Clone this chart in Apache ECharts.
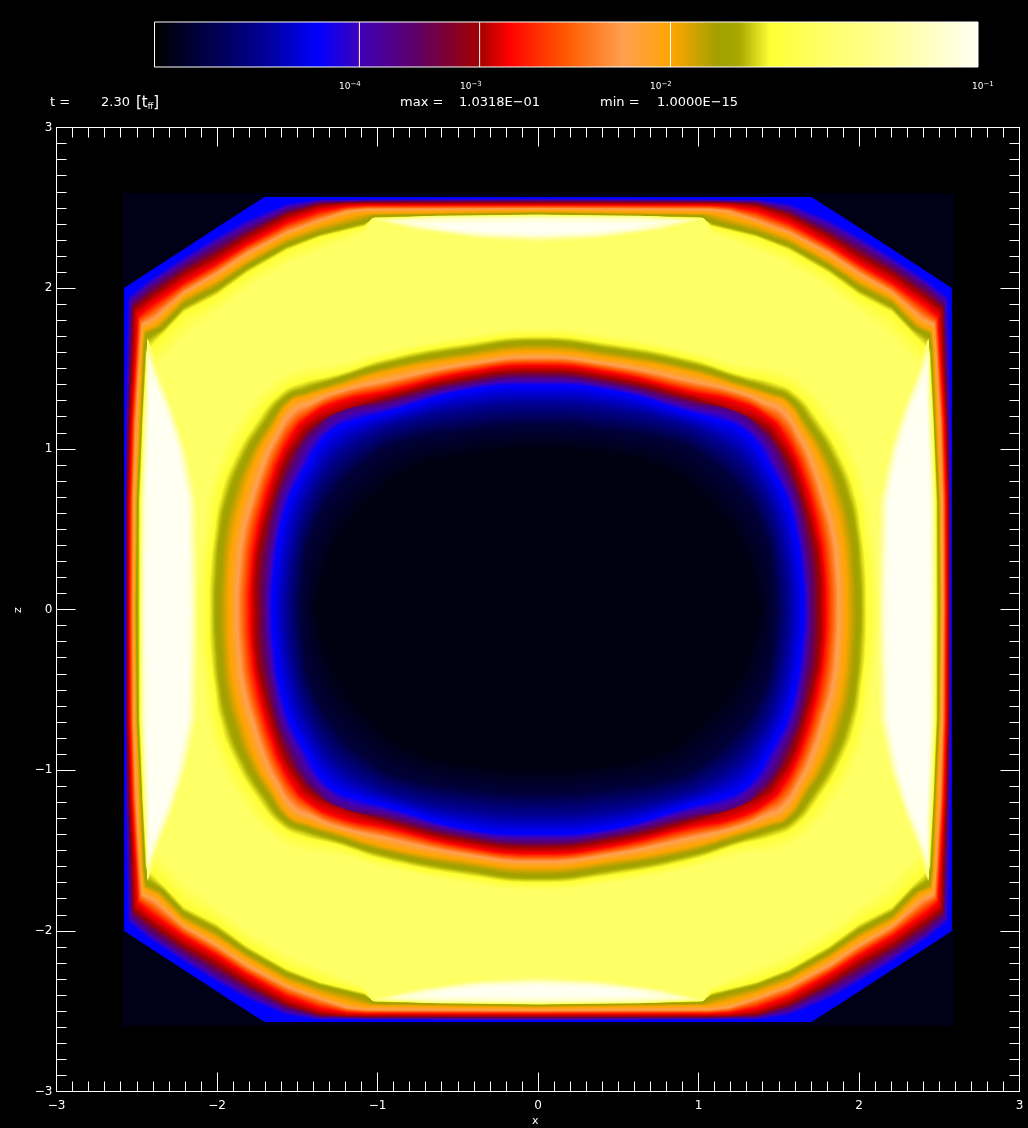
<!DOCTYPE html>
<html><head><meta charset="utf-8">
<style>html,body{margin:0;padding:0;background:#000}#c{width:1028px;height:1128px}</style>
<script src="https://cdn.jsdelivr.net/npm/echarts@6/dist/echarts.min.js"></script></head>
<body><div id="c"></div>
<script>
// ---- colour scale (position on the colour bar 0..1, colour) ----
const scaleStops = [[0,'#000000'],[.13,'#000090'],[.199,'#0000ff'],[.25,'#4000b8'],[.322,'#600060'],[.394,'#a00000'],[.43,'#ff0000'],[.5,'#ff5a00'],[.57,'#ffa050'],[.628,'#ffa500'],[.684,'#a0a000'],[.71,'#a8a800'],[.748,'#ffff33'],[.81,'#ffff66'],[.87,'#ffff88'],[1,'#fffff2']];
const barTickLevels = [.2488,.3948,.6266];

// ---- iso-level curves, quadrant x>0 z>0, [x,z] ----
const domainHalfWidth = 2.59;
const domainLevel = .02;
const outerLevels = [.2,.2,.3,.394,.43,.57,.628,.695,.748,.81];
const outerCurves = [
 [[0,2.568],[1.068,2.568],[1.192,2.568],[1.441,2.568],[1.703,2.568],[1.909,2.436],[2.083,2.323],[2.282,2.194],[2.450,2.085],[2.578,2.001],[2.578,1.616],[2.578,1.179],[2.578,.681],[2.578,0]],
 [[0,2.558],[1.068,2.555],[1.192,2.555],[1.361,2.555],[1.566,2.531],[1.815,2.432],[2.002,2.325],[2.207,2.200],[2.419,2.057],[2.556,1.951],[2.565,1.616],[2.572,1.179],[2.575,.681],[2.575,0]],
 [[0,2.546],[1.068,2.543],[1.192,2.537],[1.361,2.537],[1.566,2.487],[1.815,2.369],[2.002,2.269],[2.207,2.144],[2.419,2.007],[2.531,1.908],[2.544,1.616],[2.556,1.179],[2.565,.681],[2.565,0]],
 [[0,2.531],[1.068,2.531],[1.192,2.531],[1.361,2.518],[1.566,2.456],[1.815,2.325],[2.002,2.207],[2.207,2.095],[2.419,1.945],[2.519,1.871],[2.525,1.616],[2.544,1.179],[2.556,.681],[2.556,0]],
 [[0,2.518],[1.068,2.518],[1.192,2.512],[1.361,2.487],[1.566,2.412],[1.815,2.275],[2.002,2.157],[2.207,2.039],[2.419,1.895],[2.494,1.827],[2.506,1.616],[2.531,1.179],[2.544,.681],[2.547,0]],
 [[0,2.496],[1.068,2.493],[1.192,2.481],[1.361,2.425],[1.566,2.350],[1.815,2.219],[2.002,2.095],[2.207,1.976],[2.394,1.814],[2.469,1.777],[2.481,1.616],[2.506,1.179],[2.522,.681],[2.525,0]],
 [[0,2.481],[1.068,2.468],[1.192,2.444],[1.361,2.394],[1.566,2.319],[1.815,2.176],[2.002,2.051],[2.207,1.945],[2.375,1.777],[2.456,1.740],[2.469,1.616],[2.487,1.179],[2.506,.681],[2.512,0]],
 [[0,2.462],[1.006,2.447],[1.080,2.412],[1.361,2.344],[1.566,2.269],[1.815,2.132],[2.002,2.001],[2.207,1.895],[2.344,1.752],[2.438,1.709],[2.450,1.616],[2.469,1.179],[2.494,.681],[2.500,0]],
 [[0,2.456],[1.024,2.437],[1.080,2.387],[1.361,2.319],[1.566,2.238],[1.815,2.095],[2.002,1.958],[2.207,1.852],[2.326,1.727],[2.407,1.647],[2.438,1.603],[2.462,1.179],[2.481,.681],[2.481,0]],
 [[0,2.453],[1.037,2.431],[1.080,2.350],[1.317,2.250],[1.535,2.163],[1.784,2.020],[1.971,1.877],[2.158,1.740],[2.282,1.616],[2.375,1.522],[2.413,1.428],[2.450,1.179],[2.462,.681],[2.472,0]]
];
const innerLevels = [.81,.748,.695,.628,.57,.43,.394,.3,.2,.13,.05,.015];
const innerCurves = [
 [[0,1.752],[.445,1.709],[.943,1.615],[1.236,1.540],[1.535,1.491],[1.703,1.379],[1.846,1.210],[1.971,.993],[2.064,.681],[2.083,.476],[2.114,.264],[2.126,0]],
 [[0,1.702],[.445,1.659],[.943,1.565],[1.255,1.466],[1.473,1.416],[1.610,1.347],[1.753,1.179],[1.909,.912],[1.989,.681],[2.020,.476],[2.045,.264],[2.051,0]],
 [[0,1.665],[.445,1.615],[.943,1.522],[1.255,1.428],[1.441,1.366],[1.566,1.316],[1.691,1.161],[1.822,.949],[1.927,.681],[1.971,.476],[1.989,.264],[2.002,0]],
 [[0,1.609],[.445,1.565],[.943,1.478],[1.255,1.385],[1.441,1.329],[1.547,1.285],[1.659,1.117],[1.753,.949],[1.846,.681],[1.896,.476],[1.921,.264],[1.927,0]],
 [[0,1.572],[.445,1.528],[.943,1.428],[1.255,1.354],[1.410,1.291],[1.522,1.242],[1.628,1.086],[1.703,.930],[1.784,.681],[1.840,.476],[1.865,.264],[1.877,0]],
 [[0,1.522],[.445,1.478],[.943,1.360],[1.255,1.291],[1.460,1.179],[1.535,1.086],[1.610,.949],[1.659,.818],[1.703,.681],[1.753,.476],[1.784,.264],[1.796,0]],
 [[0,1.484],[.445,1.441],[.943,1.322],[1.224,1.229],[1.410,1.148],[1.491,1.055],[1.566,.943],[1.616,.818],[1.659,.681],[1.716,.476],[1.753,.264],[1.759,0]],
 [[0,1.447],[.445,1.403],[.943,1.285],[1.255,1.223],[1.398,1.098],[1.473,1.005],[1.516,.912],[1.566,.807],[1.616,.681],[1.659,.476],[1.691,.264],[1.703,0]],
 [[0,1.397],[.445,1.366],[.943,1.229],[1.130,1.179],[1.255,1.136],[1.361,1.036],[1.441,.899],[1.510,.775],[1.554,.681],[1.610,.476],[1.641,.264],[1.659,0]],
 [[0,1.285],[.445,1.254],[.881,1.161],[1.068,1.086],[1.192,1.011],[1.286,.930],[1.361,.824],[1.429,.700],[1.485,.557],[1.516,.431],[1.547,.264],[1.566,0]],
 [[0,1.148],[.445,1.117],[.881,1.036],[1.068,.930],[1.192,.824],[1.286,.712],[1.361,.600],[1.417,.463],[1.448,.370],[1.460,.278],[1.466,.183],[1.479,0]],
 [[0,.993],[.445,.961],[.819,.856],[1.006,.712],[1.130,.588],[1.224,.463],[1.286,.339],[1.329,.214],[1.354,.121],[1.361,.090],[1.367,.059],[1.379,0]]
];
const lensLevels = [.81,.87,.95,1];
const sideLensCurves = [
 [[2.095,0],[2.114,.681],[2.189,.993],[2.270,1.242],[2.363,1.491],[2.432,1.690],[2.453,1.304],[2.475,.681],[2.478,0]],
 [[2.126,0],[2.138,.681],[2.201,.993],[2.282,1.242],[2.382,1.491],[2.435,1.646],[2.444,1.304],[2.469,.681],[2.472,0]],
 [[2.151,0],[2.163,.681],[2.226,.993],[2.301,1.242],[2.394,1.479],[2.432,1.585],[2.432,1.304],[2.456,.681],[2.456,0]],
 [[2.176,0],[2.189,.681],[2.251,.993],[2.326,1.242],[2.407,1.429],[2.416,1.491],[2.419,1.304],[2.435,.681],[2.438,0]]
];
const topLensCurves = [
 [[0,2.453],[.632,2.450],[1.037,2.434],[.819,2.363],[.383,2.300],[0,2.275]],
 [[0,2.450],[.632,2.444],[1.000,2.425],[.757,2.369],[.383,2.319],[0,2.300]],
 [[0,2.437],[.632,2.431],[.912,2.419],[.663,2.369],[.364,2.331],[0,2.319]],
 [[0,2.406],[.445,2.400],[.663,2.400],[.507,2.369],[.258,2.350],[0,2.344]]
];

// ---- colour lookup ----
function hex(c){return [1,3,5].map(i=>parseInt(c.substr(i,2),16));}
function levelColor(f){
  for(let i=1;i<scaleStops.length;i++){
    if(f<=scaleStops[i][0]){
      const a=scaleStops[i-1],b=scaleStops[i],t=(f-a[0])/(b[0]-a[0]),A=hex(a[1]),B=hex(b[1]);
      return 'rgb('+A.map((v,k)=>Math.round(v+(B[k]-v)*t)).join(',')+')';
    }
  }
  return scaleStops[scaleStops.length-1][1];
}
// ---- nested filled shapes painted outside-in; colour is shaded across each band ----
const shapes=[];
const SHADE=8;
function shadedBands(curves,levels,toOutline,smooth){
  for(let i=0;i<curves.length;i++){
    const steps=i+1<curves.length?SHADE:1;
    for(let k=0;k<steps;k++){
      const t=k/SHADE;
      const c=curves[i].map((p,j)=>{
        if(k===0) return p;
        const q=curves[i+1][j];
        return [p[0]+(q[0]-p[0])*t,p[1]+(q[1]-p[1])*t];
      });
      const f=k===0?levels[i]:levels[i]+(levels[i+1]-levels[i])*t;
      toOutline(c).forEach(pts=>shapes.push({pts,f,smooth}));
    }
  }
}
const flipX=c=>c.map(p=>[-p[0],p[1]]), flipZ=c=>c.map(p=>[p[0],-p[1]]);
const rev=c=>c.slice().reverse();
const ringOutline=c=>[c.concat(rev(flipZ(c)).slice(1),flipX(flipZ(c)).slice(1),rev(flipX(c)).slice(1,-1))];
const sideOutline=c=>{const a=c.concat(rev(flipZ(c)).slice(1,-1));return [a,flipX(a)];};
const topOutline=c=>{const a=c.concat(rev(flipX(c)).slice(1,-1));return [a,flipZ(a)];};
const d=domainHalfWidth;
shapes.push({pts:[[-d,-d],[d,-d],[d,d],[-d,d]],f:domainLevel,smooth:0});
shadedBands(outerCurves,outerLevels,ringOutline,0);
shadedBands(sideLensCurves,lensLevels,sideOutline,0);
shadedBands(topLensCurves,lensLevels,topOutline,0);
shadedBands(innerCurves,innerLevels,ringOutline,.5);

function renderField(params,api){
  const s=shapes[api.value(0)];
  return {type:'polygon',shape:{points:s.pts.map(p=>api.coord(p)),smooth:s.smooth},style:{fill:levelColor(s.f)},silent:true};
}
function renderBar(params,api){
  const a=api.coord([0,0]),b=api.coord([1,1]);
  const colorStops=scaleStops.map(s=>({offset:s[0],color:s[1]}));
  return {type:'rect',shape:{x:a[0],y:b[1],width:b[0]-a[0],height:a[1]-b[1]},
    style:{fill:{type:'linear',x:a[0],y:0,x2:b[0],y2:0,global:true,colorStops},stroke:'#fff',lineWidth:1}};
}
function renderBarTick(params,api){
  const a=api.coord([api.value(0),0]),b=api.coord([api.value(0),1]);
  return {type:'line',shape:{x1:a[0],y1:a[1],x2:b[0],y2:b[1]},style:{stroke:'#fff',lineWidth:1}};
}
const font='"DejaVu Sans"';
function txt(x,y,text,extra){
  return {type:'text',x,y,silent:true,style:Object.assign({text,fill:'#fff',font:'13px '+font,verticalAlign:'middle'},extra||{})};
}
const expRich={a:{fill:'#fff',fontFamily:font,fontSize:9,verticalAlign:'bottom'},b:{fill:'#fff',fontFamily:font,fontSize:7,verticalAlign:'top',padding:[0,0,4,0]}};
function power(x,exp){
  return {type:'text',x,y:86,silent:true,style:{text:'{a|10}{b|\u2212'+exp+'}',rich:expRich,verticalAlign:'middle'}};
}
const axisCommon={min:-3,max:3,interval:1,axisLine:{onZero:false,lineStyle:{color:'#fff',width:1}},
  axisTick:{inside:true,length:19,lineStyle:{color:'#fff',width:1}},
  minorTick:{show:true,splitNumber:10,length:10,lineStyle:{color:'#fff',width:1}},splitLine:{show:false}};
const labelStyle={color:'#fff',fontFamily:font,fontSize:12,formatter:v=>String(v).replace('-','\u2212')};
const chart=echarts.init(document.getElementById('c'),null,{renderer:'canvas',width:1028,height:1128});
chart.setOption({
  backgroundColor:'#000',animation:false,
  grid:[{left:56.5,top:127.5,width:963,height:964,show:false},{left:154.5,top:22,width:823.5,height:45,show:false}],
  xAxis:[
    Object.assign({},axisCommon,{gridIndex:0,type:'value',position:'bottom',axisLabel:Object.assign({margin:8},labelStyle)}),
    Object.assign({},axisCommon,{gridIndex:0,type:'value',position:'top',axisLabel:{show:false}}),
    {gridIndex:1,type:'value',min:0,max:1,show:false}
  ],
  yAxis:[
    Object.assign({},axisCommon,{gridIndex:0,type:'value',position:'left',axisLabel:Object.assign({margin:4},labelStyle)}),
    Object.assign({},axisCommon,{gridIndex:0,type:'value',position:'right',axisLabel:{show:false}}),
    {gridIndex:1,type:'value',min:0,max:1,show:false}
  ],
  series:[
    {type:'custom',name:'field',xAxisIndex:0,yAxisIndex:0,z:1,clip:false,progressive:0,renderItem:renderField,data:shapes.map((s,i)=>[i]),encode:{x:[],y:[]},silent:true},
    {type:'custom',name:'colour bar',xAxisIndex:2,yAxisIndex:2,z:1,renderItem:renderBar,data:[[0]],encode:{x:[],y:[]},silent:true},
    {type:'custom',name:'bar ticks',xAxisIndex:2,yAxisIndex:2,z:2,renderItem:renderBarTick,data:barTickLevels.map(v=>[v]),silent:true}
  ],
  graphic:[
    power(339,4),power(460,3),power(650,2),power(972,1),
    txt(50,103,'t ='),
    txt(101,103,'2.30'),
    {type:'text',x:136,y:103,silent:true,style:{text:'[t{s|ff}]',fill:'#fff',font:'15px '+font,verticalAlign:'middle',rich:{s:{fill:'#fff',fontFamily:font,fontSize:8,verticalAlign:'bottom'}}}},
    txt(400,103,'max ='),
    txt(459,103,'1.0318E\u221201'),
    txt(600,103,'min ='),
    txt(657,103,'1.0000E\u221215'),
    txt(532,1121,'x',{font:'11px '+font}),
    {type:'text',x:18,y:610,rotation:Math.PI/2,silent:true,style:{text:'z',fill:'#fff',font:'11px '+font,align:'center',verticalAlign:'middle'}}
  ]
});
</script></body></html>
